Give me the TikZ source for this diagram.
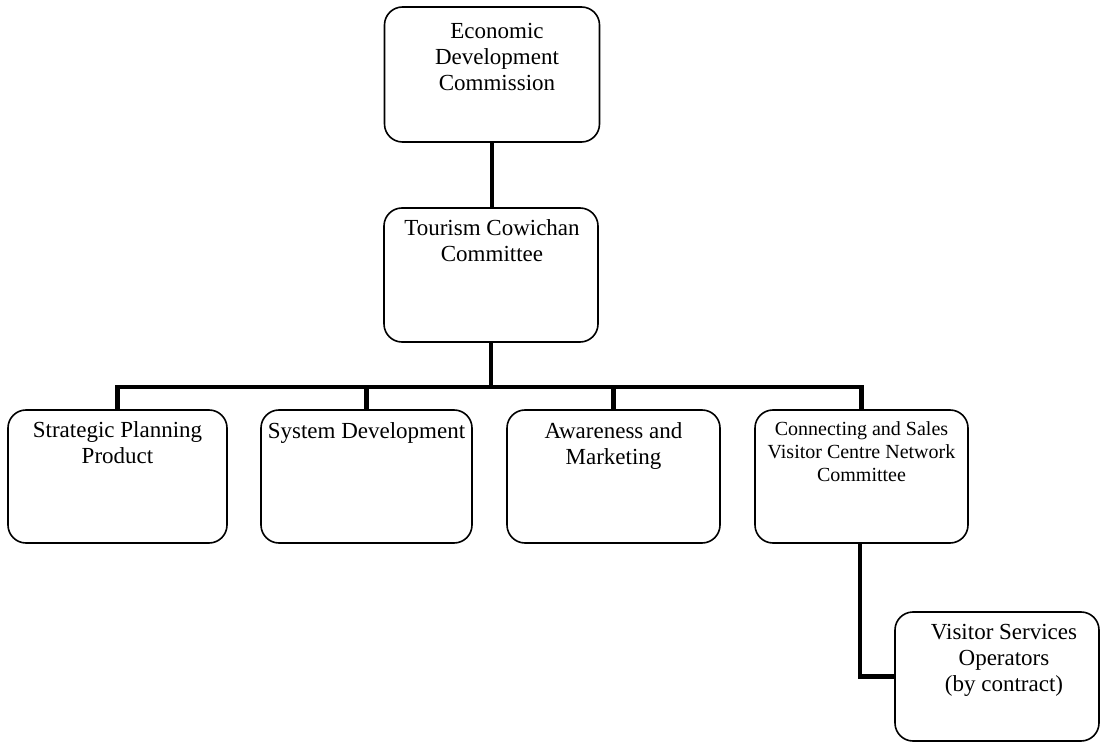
\documentclass[tikz,border=0pt]{standalone}
\usepackage{fontspec}
\setmainfont{Liberation Serif}
\usetikzlibrary{calc}
\tikzset{
  orgbox/.style={draw=black, line width=1.6pt, rounded corners=18pt, inner sep=0pt, fill=white},
  txt/.style={align=center, inner sep=0pt, anchor=north, font=\fontsize{23}{26}\selectfont},
  smalltxt/.style={align=center, inner sep=0pt, anchor=north, font=\fontsize{20}{23}\selectfont},
  conn/.style={line width=4.5pt, line join=miter, line cap=butt}
}
\begin{document}
\begin{tikzpicture}[x=1pt, y=-1pt]
\useasboundingbox (0,0) rectangle (1101,743);
% boxes
\node[orgbox, minimum width=215pt, minimum height=135pt] (eco) at (492,74.5) {};
\node[orgbox, minimum width=214pt, minimum height=134pt] (tcc) at (491,275) {};
\node[orgbox, minimum width=219pt, minimum height=133pt] (spp) at (117.5,476.5) {};
\node[orgbox, minimum width=211pt, minimum height=133pt] (sd) at (366.5,476.5) {};
\node[orgbox, minimum width=213pt, minimum height=133pt] (am) at (613.5,476.5) {};
\node[orgbox, minimum width=213pt, minimum height=133pt] (cs) at (861.5,476.5) {};
\node[orgbox, minimum width=204pt, minimum height=129pt] (vso) at (997,676.5) {};
% texts
\node[txt] (ecot) at ($(eco.north)+(5,17)$) {Economic\\Development\\Commission};
\node[txt] (tcct) at ($(tcc.north)+(1,12)$) {Tourism Cowichan\\Committee};
\node[txt] (sppt) at ($(spp.north)+(0,12)$) {Strategic Planning\\Product};
\node[txt] (sdt) at ($(sd.north)+(0,13)$) {System Development};
\node[txt] (amt) at ($(am.north)+(0,13)$) {Awareness and\\Marketing};
\node[smalltxt] (cst) at ($(cs.north)+(0,12)$) {Connecting and Sales\\Visitor Centre Network\\Committee};
\node[txt] (vsot) at ($(vso.north)+(7,13)$) {Visitor Services\\Operators\\(by contract)};
% connectors
\coordinate (busy) at (0,387);
\draw[conn] (eco.south) -- (eco.south |- tcc.north);
\draw[conn] (tcc.south) -- (tcc.south |- busy);
\draw[conn] (spp.north) -- (spp.north |- busy) -- (cs.north |- busy) -- (cs.north);
\draw[conn] (sd.north) -- (sd.north |- busy);
\draw[conn] (am.north) -- (am.north |- busy);
\draw[conn] ($(cs.south)+(-1.5,0)$) |- (vso.west);
\end{tikzpicture}
\end{document}
